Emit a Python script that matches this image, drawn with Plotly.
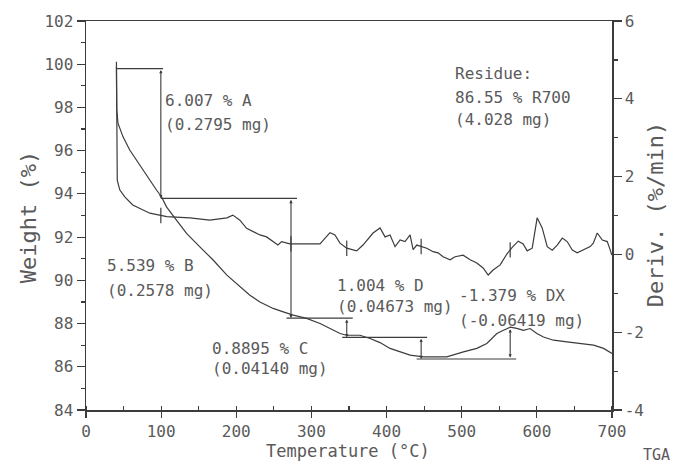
import numpy as np
import plotly.graph_objects as go

# ---------------- data ----------------
temp_w = [40.5, 40.9, 42.6, 49.3, 58.2, 67.1, 75.9, 84.9, 93.8, 100.5, 107.1, 120.4,
          133.8, 151.5, 169.2, 187.5, 204.8, 218.1, 231.4, 249.1, 262.5, 275.8, 293.6,
          311.5, 324.8, 338.1, 346.9, 364.6, 378.0, 391.3, 404.6, 418.0, 431.3, 449.0,
          480.1, 502.3, 520.1, 533.4, 546.8, 555.6, 564.5, 573.4, 582.2, 591.1, 600.0,
          608.8, 622.2, 640.0, 657.7, 675.5, 688.8, 697.7, 700.0]
weight = [99.9, 97.9, 97.26, 96.64, 96.03, 95.56, 95.10, 94.64, 94.18, 93.87, 93.40, 92.79,
          92.17, 91.55, 90.94, 90.24, 89.69, 89.31, 89.00, 88.70, 88.54, 88.39, 88.24,
          88.00, 87.77, 87.54, 87.46, 87.46, 87.31, 87.12, 86.85, 86.69, 86.54, 86.46,
          86.46, 86.69, 86.85, 87.08, 87.54, 87.69, 87.83, 87.78, 87.69, 87.77, 87.54,
          87.38, 87.23, 87.15, 87.08, 87.00, 86.85, 86.69, 86.62]

temp_d = [40.5, 40.8, 41.6, 44.9, 51.6, 62.2, 84.9, 107.5, 138.2, 164.8, 187.5, 195.4,
          204.8, 213.7, 222.1, 231.4, 240.3, 248.7, 255.4, 260.3, 271.4, 311.4, 318.0,
          324.7, 331.3, 338.0, 346.9, 360.2, 368.6, 382.0, 391.3, 398.0, 404.6, 411.3,
          418.0, 424.6, 431.3, 435.3, 440.2, 446.8, 453.5, 461.9, 468.6, 475.2, 484.5,
          491.2, 501.9, 511.2, 520.1, 528.5, 535.2, 541.8, 551.2, 560.1, 567.2, 575.2,
          581.8, 587.1, 593.8, 600.4, 607.1, 613.8, 620.5, 627.1, 633.8, 640.4, 647.1,
          653.7, 661.7, 671.0, 675.1, 680.4, 687.1, 693.7, 697.7, 699.7]
deriv = [4.95, 2.68, 1.91, 1.66, 1.48, 1.27, 1.06, 0.97, 0.94, 0.88, 0.94, 1.01,
         0.88, 0.67, 0.58, 0.50, 0.45, 0.33, 0.24, 0.33, 0.27, 0.27, 0.42,
         0.56, 0.50, 0.29, 0.16, 0.09, 0.24, 0.55, 0.68, 0.45, 0.50, 0.20,
         0.37, 0.33, 0.50, 0.12, 0.24, 0.20, 0.16, 0.07, 0.04, -0.06, -0.14,
         -0.06, -0.02, -0.14, -0.22, -0.35, -0.53, -0.40, -0.27, 0.01, 0.18, 0.34,
         0.27, 0.09, 0.16, 0.94, 0.68, 0.20, 0.11, 0.24, 0.42, 0.33, 0.11,
         0.04, 0.11, 0.20, 0.29, 0.55, 0.37, 0.33, 0.11, -0.02]

# step analysis
step_temp = [99.6, 272.8, 347.0, 446.0, 564.5]
step_pct = [6.007, 5.539, 0.8895, 1.004, -1.379]
step_top = 99.8
step_labels = [["6.007 % A", "(0.2795 mg)"],
               ["5.539 % B", "(0.2578 mg)"],
               ["0.8895 % C", "(0.04140 mg)"],
               ["1.004 % D", "(0.04673 mg)"],
               ["-1.379 % DX", "(-0.06419 mg)"]]
residue_lines = ["Residue:", "86.55 % R700", "(4.028 mg)"]

x_ticks = [0, 100, 200, 300, 400, 500, 600, 700]
left_ticks = [84, 86, 88, 90, 92, 94, 96, 98, 100, 102]
right_tick_vals = [-4, -2, 0, 2, 4, 6]
right_tick_text = ["-4", "-2", "0", "2", "4", "6"]

# ---------------- styling ----------------
LINE = "#3c3c3c"
TEXT = "#5a5a5a"
FONT = "DejaVu Sans Mono"

levels = [step_top]
for p in step_pct:
    levels.append(levels[-1] - p)

fig = go.Figure()
fig.add_trace(go.Scatter(x=temp_w, y=weight, mode="lines",
                         line=dict(color=LINE, width=1.2), yaxis="y", hoverinfo="skip"))
fig.add_trace(go.Scatter(x=temp_d, y=deriv, mode="lines",
                         line=dict(color=LINE, width=1.2), yaxis="y2", hoverinfo="skip"))

# horizontal bracket lines
hx, hy = [temp_w[0], step_temp[0] + 3], [levels[0], levels[0]]
hx += [None]; hy += [None]
for i in range(len(step_temp) - 1):
    left = step_temp[i] - (0 if i == 0 else 6)
    right = step_temp[i + 1] + 8
    hx += [left, right, None]
    hy += [levels[i + 1], levels[i + 1], None]
fig.add_trace(go.Scatter(x=hx, y=hy, mode="lines", line=dict(color=LINE, width=1.2),
                         yaxis="y", hoverinfo="skip"))

# tick marks on derivative curve at step temperatures
fig.add_trace(go.Scatter(x=step_temp, y=list(np.interp(step_temp, temp_d, deriv)),
                         mode="markers", yaxis="y2", hoverinfo="skip",
                         marker=dict(symbol="line-ns", size=11,
                                     line=dict(color=LINE, width=1.2))))

annotations = []
# vertical double arrows
for i, t in enumerate(step_temp):
    annotations.append(dict(x=t, y=levels[i + 1], ax=t, ay=levels[i],
                            xref="x", yref="y", axref="x", ayref="y", text="",
                            showarrow=True, arrowside="end+start", arrowhead=2,
                            arrowsize=0.6, arrowwidth=1.1, arrowcolor=LINE))

# label positions (data coords)
label_pos = [(102.0, 98.30, 97.19),
             (25.0, 90.70, 89.55),
             (164.9, 86.86, 85.94),
             (331.3, 89.78, 88.78),
             (493.9, 89.31, 88.16)]
for (lx, y1, y2), (l1, l2) in zip(label_pos, step_labels):
    for yy, tt in ((y1, l1), (y2, l2)):
        annotations.append(dict(x=lx, y=yy, xref="x", yref="y", text=tt, showarrow=False,
                                xanchor="left", yanchor="middle",
                                font=dict(family=FONT, size=16, color=TEXT)))
for yy, tt in zip([99.55, 98.48, 97.42], residue_lines):
    annotations.append(dict(x=488.9, y=yy, xref="x", yref="y", text=tt, showarrow=False,
                            xanchor="left", yanchor="middle",
                            font=dict(family=FONT, size=16, color=TEXT)))

# axis titles
annotations.append(dict(x=-0.110, y=0.496, xref="paper", yref="paper", text="Weight (%)",
                        textangle=-90, showarrow=False, xanchor="center", yanchor="middle",
                        font=dict(family=FONT, size=22, color=TEXT)))
annotations.append(dict(x=1.082, y=0.501, xref="paper", yref="paper", text="Deriv. (%/min)",
                        textangle=-90, showarrow=False, xanchor="center", yanchor="middle",
                        font=dict(family=FONT, size=22, color=TEXT)))
annotations.append(dict(x=0.498, y=-0.105, xref="paper", yref="paper", text="Temperature (°C)",
                        showarrow=False, xanchor="center", yanchor="middle",
                        font=dict(family=FONT, size=17, color=TEXT)))
annotations.append(dict(x=1.084, y=-0.116, xref="paper", yref="paper", text="TGA",
                        showarrow=False, xanchor="center", yanchor="middle",
                        font=dict(family=FONT, size=15, color=TEXT)))

tickfont = dict(family=FONT, size=16, color=TEXT)
fig.update_layout(
    width=674, height=464, autosize=False,
    margin=dict(l=86, r=62, t=21, b=54, pad=0),
    paper_bgcolor="white", plot_bgcolor="white",
    showlegend=False,
    annotations=annotations,
    xaxis=dict(range=[0, 700], tickvals=x_ticks, showline=True, linecolor=LINE, linewidth=1.5,
               mirror=True, ticks="outside", ticklen=6, tickcolor=LINE, tickwidth=1.2,
               minor=dict(dtick=50, ticks="inside", ticklen=4, tickcolor=LINE, tickwidth=1.2),
               showgrid=False, zeroline=False, tickfont=tickfont),
    yaxis=dict(range=[84, 102], tickvals=left_ticks, showline=True, linecolor=LINE, linewidth=1.5,
               ticks="outside", ticklen=8, tickcolor=LINE, tickwidth=1.2,
               minor=dict(dtick=1, ticks="outside", ticklen=4, tickcolor=LINE, tickwidth=1.2),
               showgrid=False, zeroline=False, tickfont=tickfont),
    yaxis2=dict(range=[-4, 6], overlaying="y", side="right", tickvals=right_tick_vals,
                ticktext=right_tick_text, showline=True, linecolor=LINE, linewidth=1.5,
                ticks="outside", ticklen=8, tickcolor=LINE, tickwidth=1.2,
                minor=dict(dtick=1, ticks="outside", ticklen=4, tickcolor=LINE, tickwidth=1.2),
                showgrid=False, zeroline=False, tickfont=tickfont),
)

# remove the page's default body margin and scrollbars so the figure fills the window
fig.write_html("out.html",
               config={"displayModeBar": False, "staticPlot": True},
               post_script="document.body.style.margin='0';"
                           "document.body.style.overflow='hidden';")
